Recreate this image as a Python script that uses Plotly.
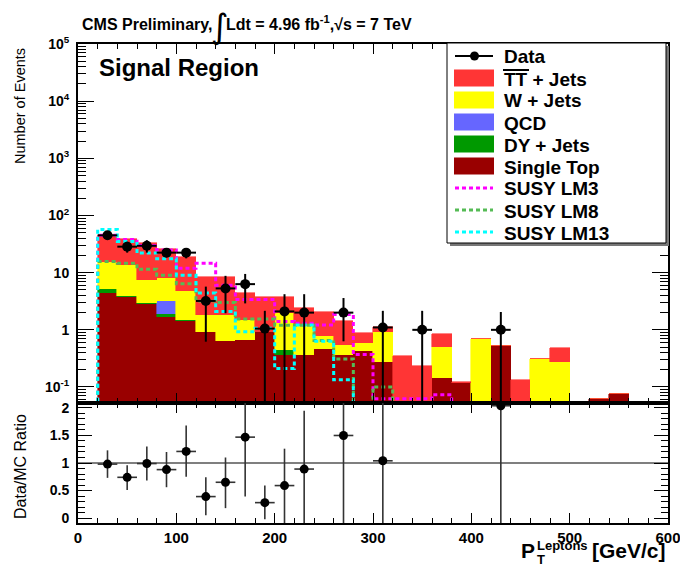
import numpy as np
import plotly.graph_objects as go

# ---------------- binning (20 GeV bins from 0 to 600 GeV) ----------------
bin_edges = np.arange(0, 620, 20)
bin_centers = 0.5 * (bin_edges[:-1] + bin_edges[1:])

# ---------------- stacked background expectations per bin ----------------
single_top = [0, 4.37, 3.72, 2.80, 1.71, 1.44, 0.92, 0.63, 0.67, 0.90,
              0.37, 0.37, 0.46, 0.37, 0.42, 0.27, 0, 0, 0.144, 0.117,
              0, 0.53, 0, 0, 0, 0, 0.062, 0.076, 0, 0]
dy_jets = [0, 0.83, 0.18, 0.13, 0.19, 0.06, 0, 0, 0, 0,
           0.08, 0, 0, 0, 0, 0, 0, 0, 0, 0,
           0, 0, 0, 0, 0, 0, 0, 0, 0, 0]
qcd = [0, 0, 0, 0, 1.35, 0, 0, 0, 0, 0,
       0, 0, 0, 0, 0, 0, 0, 0, 0, 0,
       0, 0, 0, 0, 0, 0, 0, 0, 0, 0]
w_jets = [0, 10.0, 9.7, 4.37, 4.95, 3.3, 0.88, 1.2, 0.83, 0,
          1.55, 0.8, 0.33, 0.18, 0.16, 0.64, 0, 0, 0.356, 0,
          0.69, 0, 0, 0.31, 0.27, 0, 0, 0, 0, 0]
tt_jets = [0, 30.8, 24.9, 25.5, 17.4, 13.7, 6.5, 6.47, 2.9, 2.8,
           1.7, 1.28, 1.3, 0.9, 0.29, 0.19, 0.35, 0.23, 0.35, 0.005,
           0.01, 0, 0.134, 0.005, 0.21, 0, 0, 0, 0, 0]

# ---------------- SUSY benchmark signals (overlaid, not stacked) ----------------
susy_lm3 = [0, 45, 38, 30, 25, 12, 14.6, 6.0, 3.4, 3.4,
            1.4, 1.3, 1.22, 1.85, 0.37, 0.062, 0.062, 0.062, 0.073, 0,
            0, 0, 0, 0, 0, 0, 0, 0, 0, 0]
susy_lm8 = [0, 15.6, 14.6, 11.5, 9.0, 6.4, 3.2, 3.0, 1.55, 1.55,
            1.2, 1.2, 0.65, 0.31, 0, 0.10, 0, 0, 0, 0,
            0, 0, 0, 0, 0, 0, 0, 0, 0, 0]
susy_lm13 = [0, 57, 35, 22, 17.5, 9.0, 4.4, 2.1, 0.93, 1.07,
             0.21, 1.22, 0.63, 0.134, 0, 0, 0, 0, 0, 0,
             0, 0, 0, 0, 0, 0, 0, 0, 0, 0]

# ---------------- observed data ----------------
data_x = [30, 50, 70, 90, 110, 130, 150, 170, 190, 210, 230, 270, 310, 350, 430]
data_y = [45, 28.5, 29.5, 22.4, 22.4, 3.2, 5.3, 6.3, 1.05, 2.1, 2.0, 2.0, 1.1, 1.0, 1.0]
data_hi = [53, 34.8, 37, 26.8, 27, 5.7, 8.8, 9.5, 2.15, 4.2, 4.2, 3.6, 2.15, 2.15, 2.05]
data_lo = [37.5, 22.4, 22.4, 18.5, 17.8, 0.62, 1.95, 2.9, 0, 0, 0, 0.63, 0, 0, 0]

# ---------------- data / MC ratio ----------------
ratio_x = [30, 50, 70, 90, 110, 130, 150, 170, 190, 210, 230, 270, 310, 430]
ratio_y = [0.98, 0.74, 0.99, 0.88, 1.21, 0.39, 0.65, 1.47, 0.28, 0.59, 0.89, 1.50, 1.04, 2.04]
ratio_hi = [1.23, 0.96, 1.30, 1.20, 1.68, 0.74, 1.10, 2.2, 0.59, 1.26, 1.95, 2.7, 2.24, 4.1]
ratio_lo = [0.73, 0.51, 0.68, 0.56, 0.75, 0.05, 0.18, 0.39, -0.02, -0.1, -0.1, -0.1, -0.1, -0.1]

main_ticks = [0.1, 1, 10, 100, 1000, 1e4, 1e5]
main_ticktext = ["10<sup>-1</sup>", "1", "10", "10<sup>2</sup>", "10<sup>3</sup>",
                 "10<sup>4</sup>", "10<sup>5</sup>"]
ratio_ticks = [0, 0.5, 1, 1.5, 2]
ratio_ticktext = ["0", "0.5", "1", "1.5", "2"]
x_ticks = [0, 100, 200, 300, 400, 500, 600]

# ---------------- styling ----------------
W, H = 680, 566
FONT = "Liberation Sans, Arial, Helvetica, sans-serif"
C_TT = "#FF3535"
C_W = "#FFFF00"
C_QCD = "#6666FF"
C_DY = "#009900"
C_ST = "#990000"
C_LM3 = "#FF00FF"
C_LM8 = "#55BB55"
C_LM13 = "#00FFFF"

LOG_MIN, LOG_MAX = -1.28, 5.0
Y_FLOOR = 10 ** LOG_MIN
R_MIN, R_MAX = -0.09, 2.09

X0, X1 = 78 / W, 668 / W
MAIN_DOM = [1 - 403 / H, 1 - 44 / H]
RATIO_DOM = [1 - 523 / H, 1 - 403 / H]


def px(x):
    return x / W


def py(y):
    return 1 - y / H


fig = go.Figure()

# stacked backgrounds (bottom to top)
for name, vals, col in [("Single Top", single_top, C_ST),
                        ("DY + Jets", dy_jets, C_DY),
                        ("QCD", qcd, C_QCD),
                        ("W + Jets", w_jets, C_W),
                        ("TT + Jets", tt_jets, C_TT)]:
    fig.add_trace(go.Bar(
        x=bin_centers, y=vals, width=20, name=name,
        marker=dict(color=col, line=dict(width=0.6, color=col)),
        xaxis="x", yaxis="y", showlegend=False, hoverinfo="skip"))

# signal step histograms
step_x = list(bin_edges)
for vals, col in [(susy_lm3, C_LM3), (susy_lm8, C_LM8), (susy_lm13, C_LM13)]:
    v = [max(a, Y_FLOOR) for a in vals]
    fig.add_trace(go.Scatter(
        x=step_x, y=v + [v[-1]], mode="lines", line_shape="hv",
        line=dict(color=col, width=3, dash="4px,3px"),
        xaxis="x", yaxis="y", showlegend=False, hoverinfo="skip"))

# data points
dy_arr = np.array(data_y)
hi_arr = np.array(data_hi)
lo_arr = np.maximum(np.array(data_lo), Y_FLOOR * 0.98)
half_bin = (bin_edges[1] - bin_edges[0]) / 2
fig.add_trace(go.Scatter(
    x=data_x, y=data_y, mode="markers",
    marker=dict(color="black", size=10),
    error_y=dict(type="data", symmetric=False, array=hi_arr - dy_arr,
                 arrayminus=dy_arr - lo_arr, width=0, thickness=2, color="black"),
    error_x=dict(type="constant", value=half_bin, width=0, thickness=2, color="black"),
    xaxis="x", yaxis="y", showlegend=False, hoverinfo="skip"))

# ratio points
ry = np.array(ratio_y)
rhi = np.minimum(np.array(ratio_hi), R_MAX)
rlo = np.maximum(np.array(ratio_lo), R_MIN)
fig.add_trace(go.Scatter(
    x=ratio_x, y=ratio_y, mode="markers",
    marker=dict(color="black", size=9),
    error_y=dict(type="data", symmetric=False, array=rhi - ry,
                 arrayminus=ry - rlo, width=0, thickness=1.6, color="#333333"),
    error_x=dict(type="constant", value=half_bin, width=0, thickness=1.6, color="#333333"),
    xaxis="x2", yaxis="y2", showlegend=False, hoverinfo="skip", cliponaxis=False))

# minor ticks for log axis
minor_log = [k * 10.0 ** e for e in range(-2, 5) for k in range(2, 10)
             if LOG_MIN <= np.log10(k * 10.0 ** e) <= LOG_MAX]

tickfont = dict(family=FONT, size=14, color="black", weight="bold")
axis_common = dict(showline=True, linecolor="black", linewidth=2, mirror="ticks",
                   ticks="inside", tickcolor="black", showgrid=False, zeroline=False,
                   automargin=False)

fig.update_layout(
    template="none",
    width=W, height=H, margin=dict(l=0, r=0, t=0, b=0, pad=0), autosize=False,
    paper_bgcolor="white", plot_bgcolor="white",
    barmode="stack", bargap=0, showlegend=False,
    font=dict(family=FONT, color="black"),
    xaxis=dict(domain=[X0, X1], anchor="y", range=[0, 600], tickvals=x_ticks,
               showticklabels=False, ticklen=10, tickwidth=1,
               minor=dict(dtick=20, tick0=0, ticks="inside", ticklen=5, tickcolor="black"),
               **axis_common),
    yaxis=dict(domain=MAIN_DOM, anchor="x", type="log", range=[LOG_MIN, LOG_MAX],
               tickvals=main_ticks, ticktext=main_ticktext, tickfont=tickfont,
               ticklen=16, tickwidth=1, ticklabelstandoff=4,
               minor=dict(tickmode="array", tickvals=minor_log, ticks="inside",
                          ticklen=8, tickcolor="black"),
               **axis_common),
    xaxis2=dict(domain=[X0, X1], anchor="y2", range=[0, 600], tickvals=x_ticks,
                tickfont=dict(family=FONT, size=15, color="black", weight="bold"),
                ticklen=10, tickwidth=1, ticklabelstandoff=0, ticklabeloverflow="allow",
                minor=dict(dtick=20, tick0=0, ticks="inside", ticklen=5, tickcolor="black"),
                **axis_common),
    yaxis2=dict(domain=RATIO_DOM, anchor="x2", range=[R_MIN, R_MAX],
                tickvals=ratio_ticks, ticktext=ratio_ticktext, tickfont=tickfont,
                ticklen=14, tickwidth=1, ticklabelstandoff=4,
                minor=dict(dtick=0.1, tick0=0, ticks="inside", ticklen=7, tickcolor="black"),
                **axis_common),
)

shapes = []
annotations = []

# unity line in the ratio panel
shapes.append(dict(type="line", xref="x2", yref="y2", x0=0, x1=600, y0=1, y1=1,
                   line=dict(color="#555555", width=1.5), layer="below"))

# legend box with shadow
shapes.append(dict(type="rect", xref="paper", yref="paper",
                   x0=px(450), x1=px(669), y0=py(246), y1=py(46),
                   fillcolor="#777777", line=dict(width=0)))
shapes.append(dict(type="rect", xref="paper", yref="paper",
                   x0=px(447), x1=px(666), y0=py(243), y1=py(43),
                   fillcolor="white", line=dict(color="black", width=1)))

legend_text_x = px(502)
legend_font = dict(family=FONT, size=19, color="black", weight="bold")

# data entry: line with marker
shapes.append(dict(type="line", xref="paper", yref="paper",
                   x0=px(455), x1=px(493), y0=py(56), y1=py(56),
                   line=dict(color="black", width=2)))
shapes.append(dict(type="circle", xref="paper", yref="paper",
                   x0=px(470), x1=px(479), y0=py(60.5), y1=py(51.5),
                   fillcolor="black", line=dict(color="black", width=0)))
annotations.append(dict(text="Data", x=legend_text_x, y=py(56), xref="paper", yref="paper",
                        xanchor="left", yanchor="middle", showarrow=False, font=legend_font))

fill_entries = [("TT + Jets", C_TT, 78), ("W + Jets", C_W, 100), ("QCD", C_QCD, 122),
                ("DY + Jets", C_DY, 144), ("Single Top", C_ST, 166)]
for label, col, yc in fill_entries:
    shapes.append(dict(type="rect", xref="paper", yref="paper",
                       x0=px(454), x1=px(494), y0=py(yc + 8.5), y1=py(yc - 8.5),
                       fillcolor=col, line=dict(width=0)))
    annotations.append(dict(text=label, x=legend_text_x, y=py(yc + 1), xref="paper", yref="paper",
                            xanchor="left", yanchor="middle", showarrow=False, font=legend_font))
# overline on TT
shapes.append(dict(type="line", xref="paper", yref="paper",
                   x0=px(503), x1=px(529), y0=py(70), y1=py(70),
                   line=dict(color="black", width=2)))

line_entries = [("SUSY LM3", C_LM3, 188), ("SUSY LM8", C_LM8, 210), ("SUSY LM13", C_LM13, 232)]
for label, col, yc in line_entries:
    shapes.append(dict(type="line", xref="paper", yref="paper",
                       x0=px(455), x1=px(493), y0=py(yc), y1=py(yc),
                       line=dict(color=col, width=3, dash="4px,3px")))
    annotations.append(dict(text=label, x=legend_text_x, y=py(yc + 1), xref="paper", yref="paper",
                            xanchor="left", yanchor="middle", showarrow=False, font=legend_font))

# header
hdr_font = dict(family=FONT, size=16, color="black", weight="bold")
annotations.append(dict(text="CMS Preliminary,", x=px(80), y=py(25), xref="paper", yref="paper",
                        xanchor="left", yanchor="middle", showarrow=False, font=hdr_font))
annotations.append(dict(text="∫", x=px(209), y=py(26), xref="paper", yref="paper",
                        xanchor="left", yanchor="middle", showarrow=False,
                        font=dict(family="DejaVu Sans", size=34, color="black")))
annotations.append(dict(text="Ldt = 4.96 fb<sup>-1</sup>,√s = 7 TeV", x=px(224), y=py(23),
                        xref="paper", yref="paper", xanchor="left", yanchor="middle",
                        showarrow=False, font=hdr_font))

# region label
annotations.append(dict(text="Signal Region", x=px(97), y=py(68), xref="paper", yref="paper",
                        xanchor="left", yanchor="middle", showarrow=False,
                        font=dict(family=FONT, size=24, color="black", weight="bold")))

# axis titles
annotations.append(dict(text="Number of Events", x=px(20), y=py(106), xref="paper", yref="paper",
                        xanchor="center", yanchor="middle", textangle=-90, showarrow=False,
                        font=dict(family=FONT, size=14.5, color="black")))
annotations.append(dict(text="Data/MC Ratio", x=px(20), y=py(467), xref="paper", yref="paper",
                        xanchor="center", yanchor="middle", textangle=-90, showarrow=False,
                        font=dict(family=FONT, size=16, color="black")))

xt_font_small = dict(family=FONT, size=13, color="black", weight="bold")
annotations.append(dict(text="P", x=px(519), y=py(550), xref="paper", yref="paper",
                        xanchor="left", yanchor="middle", showarrow=False,
                        font=dict(family=FONT, size=21, color="black", weight="bold")))
annotations.append(dict(text="Leptons", x=px(535), y=py(545), xref="paper", yref="paper",
                        xanchor="left", yanchor="middle", showarrow=False, font=xt_font_small))
annotations.append(dict(text="T", x=px(535), y=py(559), xref="paper", yref="paper",
                        xanchor="left", yanchor="middle", showarrow=False, font=xt_font_small))
annotations.append(dict(text="[GeV/c]", x=px(668), y=py(550), xref="paper", yref="paper",
                        xanchor="right", yanchor="middle", showarrow=False,
                        font=dict(family=FONT, size=21, color="black", weight="bold")))

fig.update_layout(shapes=shapes, annotations=annotations)

fig.write_html("out.html")
